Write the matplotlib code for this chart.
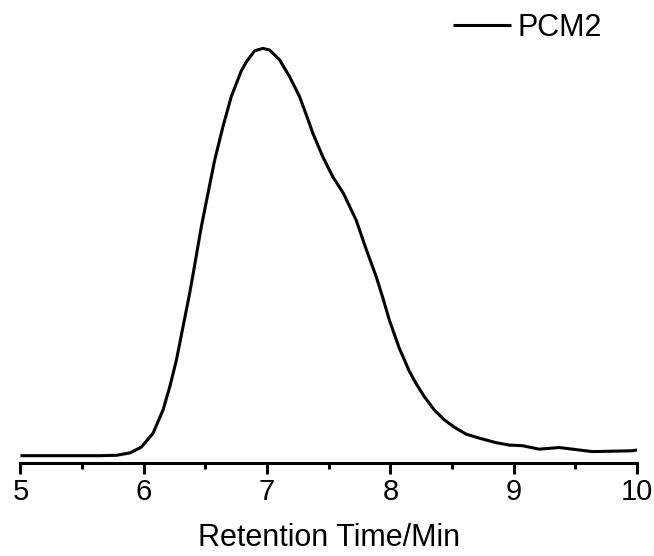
import matplotlib
matplotlib.use("Agg")
import matplotlib.pyplot as plt
from matplotlib.ticker import MultipleLocator

# --- dados ---
retention_time = [
    5.00, 5.64, 5.78, 5.89, 5.98, 6.075, 6.156, 6.211, 6.265, 6.318, 6.372,
    6.413, 6.467, 6.521, 6.575, 6.642, 6.710, 6.751, 6.791, 6.832, 6.899,
    6.966, 7.020, 7.101, 7.182, 7.263, 7.330, 7.371, 7.452, 7.533, 7.620,
    7.722, 7.803, 7.884, 7.938, 7.992, 8.073, 8.154, 8.208, 8.275, 8.356,
    8.437, 8.518, 8.613, 8.721, 8.856, 8.964, 9.071, 9.206, 9.368, 9.530,
    9.638, 9.962, 10.00,
]
intensity = [
    0.000, 0.000, 0.001, 0.007, 0.021, 0.055, 0.112, 0.169, 0.235, 0.316, 0.398,
    0.468, 0.562, 0.644, 0.725, 0.807, 0.881, 0.913, 0.944, 0.966, 0.993,
    0.999, 0.995, 0.971, 0.930, 0.881, 0.826, 0.791, 0.733, 0.684, 0.643,
    0.578, 0.507, 0.440, 0.388, 0.332, 0.263, 0.207, 0.177, 0.145, 0.112,
    0.088, 0.070, 0.053, 0.043, 0.032, 0.026, 0.0245, 0.016, 0.020, 0.014,
    0.010, 0.012, 0.014,
]
series_label = "PCM2"
x_label = "Retention Time/Min"

FONT = "Liberation Sans"

fig = plt.figure(figsize=(6.54, 5.56), dpi=100)
ax = fig.add_axes([0.0313, 0.1673, 0.9427, 0.7968])

line, = ax.plot(retention_time, intensity, color="black", lw=2.2,
                solid_joinstyle="round", solid_capstyle="butt", label=series_label)

ax.set_xlim(5, 10)
ax.set_ylim(-0.0179, 1.0687)

for side in ("left", "top", "right"):
    ax.spines[side].set_visible(False)
ax.spines["bottom"].set_linewidth(2.2)
ax.set_yticks([])

ax.xaxis.set_major_locator(MultipleLocator(1))
ax.xaxis.set_minor_locator(MultipleLocator(0.5))
ax.tick_params(axis="x", which="major", direction="out", length=8, width=2.2, pad=3,
               labelsize=21)
ax.tick_params(axis="x", which="minor", direction="out", length=4, width=2.2)
for lbl in ax.get_xticklabels():
    lbl.set_fontfamily(FONT)

ax.set_xlabel(x_label, fontsize=22, fontfamily=FONT, labelpad=12)

fig.legend(handles=[line], loc="center left",
           bbox_to_anchor=(453 / 654, 1 - 28 / 556),
           frameon=False, borderpad=0, borderaxespad=0,
           handlelength=1.9, handletextpad=0.22,
           prop={"family": FONT, "size": 22})

fig.savefig("out.png", dpi=100)
